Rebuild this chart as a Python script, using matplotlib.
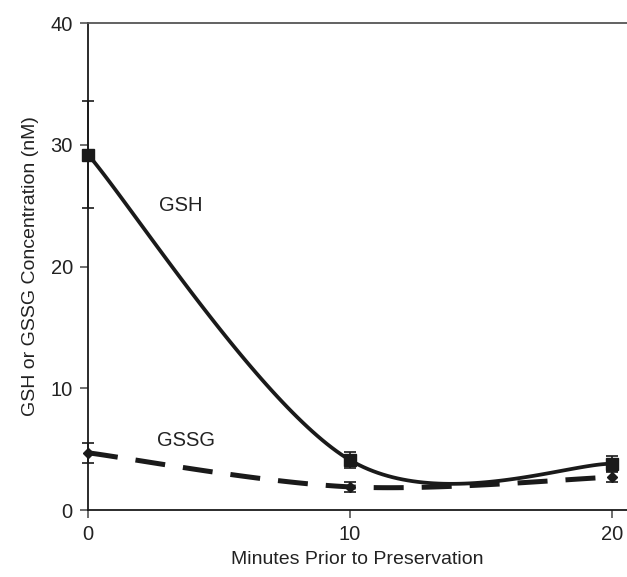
import numpy as np
import matplotlib
matplotlib.use("Agg")
import matplotlib.pyplot as plt

plt.rcParams['font.family'] = ['Liberation Sans', 'DejaVu Sans']

minutes = [0, 10, 20]
gsh = [29.2, 4.1, 3.8]
gsh_err = [4.4, 0.65, 0.6]
gssg = [4.7, 1.9, 2.7]
gssg_err = [0.8, 0.4, 0.4]


def smooth(xs, ys, n=60):
  # spreadsheet style smoothing: cubic bezier between points, tangents from neighbours
  pts = np.column_stack([xs, ys]).astype(float)
  out = []
  for i in range(len(pts) - 1):
    p0 = pts[max(i - 1, 0)]
    p1 = pts[i]
    p2 = pts[i + 1]
    p3 = pts[min(i + 2, len(pts) - 1)]
    c1 = p1 + (p2 - p0) / 6.0
    c2 = p2 - (p3 - p1) / 6.0
    t = np.linspace(0, 1, n)[:, None]
    seg = ((1 - t) ** 3) * p1 + 3 * ((1 - t) ** 2) * t * c1 + 3 * (1 - t) * t ** 2 * c2 + t ** 3 * p2
    out.append(seg if i == 0 else seg[1:])
  curve = np.vstack(out)
  return curve[:, 0], curve[:, 1]


fig = plt.figure(figsize=(6.27, 5.77), dpi=100)
ax = fig.add_axes([0.1404, 0.1161, 0.8596, 0.8439])

sx, sy = smooth(minutes, gsh)
ax.plot(sx, sy, color='#1a1a1a', lw=2.7, solid_capstyle='butt', clip_on=False, zorder=3)
sx, sy = smooth(minutes, gssg)
ax.plot(sx, sy, color='#1a1a1a', lw=3.6, dashes=(6.0, 3.6), dash_capstyle='butt', clip_on=False, zorder=3)

ax.errorbar(minutes, gsh, yerr=gsh_err, fmt='s', color='#1a1a1a', ms=8,
            capsize=4.5, elinewidth=1.2, capthick=1.2, clip_on=False, zorder=4)
ax.errorbar(minutes, gssg, yerr=gssg_err, fmt='D', color='#1a1a1a', ms=5.5,
            capsize=4.5, elinewidth=1.2, capthick=1.2, clip_on=False, zorder=4)

ax.text(2.7, 25.0, "GSH", fontsize=14.5, color='#222222', ha='left', va='center')
ax.text(2.65, 5.7, "GSSG", fontsize=14.5, color='#222222', ha='left', va='center')

ax.set_xlim(0, 20.57)
ax.set_ylim(0, 40)
ax.set_xticks([0, 10, 20])
ax.set_yticks([0, 10, 20, 30, 40])
ax.tick_params(axis='both', direction='out', length=6, width=1.2, color='#555555',
               labelsize=14.5, labelcolor='#222222', pad=5)

ax.spines['right'].set_visible(False)
ax.spines['left'].set_color('#1a1a1a')
ax.spines['bottom'].set_color('#1a1a1a')
ax.spines['top'].set_color('#555555')
for s in ['left', 'bottom', 'top']:
  ax.spines[s].set_linewidth(1.3)

ax.set_xlabel("Minutes Prior to Preservation", fontsize=14, color='#222222', labelpad=5)
ax.set_ylabel("GSH or GSSG Concentration (nM)", fontsize=14, color='#222222', labelpad=8)

fig.savefig("out.png", dpi=100)
